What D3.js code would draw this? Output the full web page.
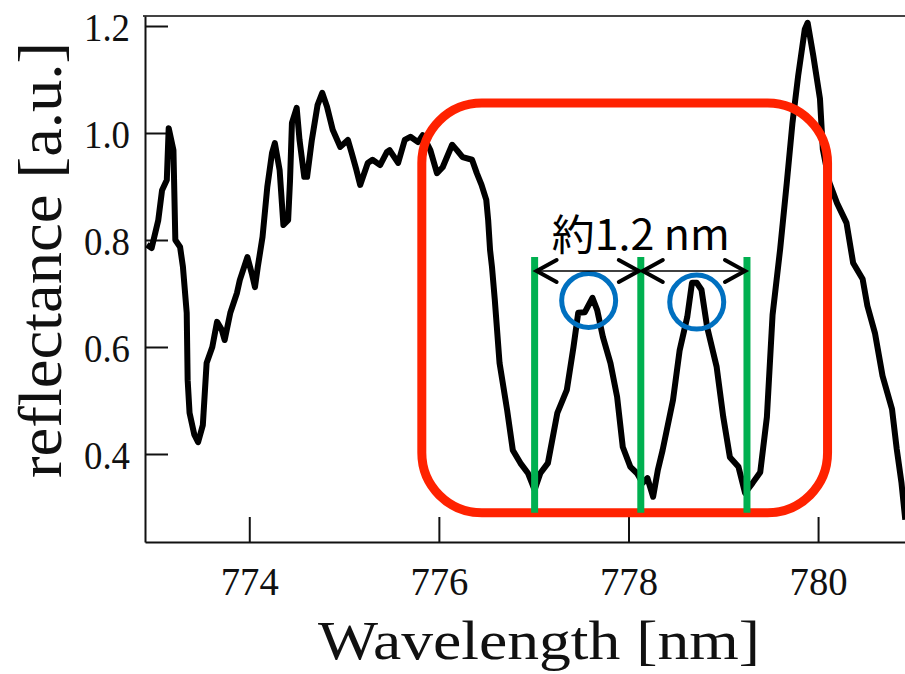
<!DOCTYPE html>
<html>
<head>
<meta charset="utf-8">
<script src="https://cdn.jsdelivr.net/npm/d3@7"></script>
<style>
  html, body { margin: 0; padding: 0; background: #fff; }
  svg { display: block; }
  .serif { font-family: "Times New Roman", "Liberation Serif", Tinos, Times, serif; }
</style>
</head>
<body>
<div id="container"></div>
<script>
// wavelength [nm] and reflectance [a.u.]
const wavelength = [
  772.92, 772.97, 773.04, 773.08, 773.13, 773.15, 773.20, 773.22, 773.27, 773.30,
  773.34, 773.35, 773.37, 773.42, 773.46, 773.51, 773.55, 773.61, 773.66, 773.71,
  773.74, 773.80, 773.87, 773.90, 773.98, 774.03, 774.06, 774.09, 774.14, 774.19,
  774.24, 774.27, 774.32, 774.36, 774.41, 774.43, 774.45, 774.50, 774.53, 774.58,
  774.61, 774.66, 774.72, 774.77, 774.82, 774.88, 774.96, 775.04, 775.08, 775.13,
  775.17, 775.25, 775.30, 775.38, 775.45, 775.48, 775.57, 775.64, 775.70, 775.78,
  775.83, 775.91, 775.98, 776.04, 776.14, 776.19, 776.25, 776.35, 776.40, 776.45,
  776.50, 776.52, 776.54, 776.56, 776.59, 776.64, 776.72, 776.78, 776.86, 776.94,
  777.01, 777.07, 777.15, 777.25, 777.35, 777.42, 777.47, 777.54, 777.62, 777.67,
  777.73, 777.81, 777.88, 777.94, 778.02, 778.09, 778.15, 778.20, 778.26, 778.31,
  778.36, 778.47, 778.54, 778.62, 778.67, 778.72, 778.77, 778.83, 778.93, 779.00,
  779.07, 779.16, 779.23, 779.31, 779.39, 779.46, 779.52, 779.60, 779.67, 779.73,
  779.79, 779.86, 779.89, 779.95, 780.02, 780.05, 780.12, 780.20, 780.30, 780.37,
  780.47, 780.52, 780.60, 780.68, 780.78, 780.83, 780.88, 780.92
];
const reflectance = [
  0.791, 0.785, 0.837, 0.893, 0.912, 1.009, 0.968, 0.800, 0.787, 0.750,
  0.664, 0.538, 0.477, 0.436, 0.422, 0.454, 0.570, 0.600, 0.647, 0.632,
  0.613, 0.664, 0.701, 0.725, 0.768, 0.735, 0.712, 0.750, 0.806, 0.899,
  0.963, 0.981, 0.931, 0.828, 0.837, 0.912, 1.019, 1.047, 0.987, 0.918,
  0.918, 0.987, 1.052, 1.075, 1.049, 1.006, 0.974, 0.987, 0.963, 0.931,
  0.903, 0.944, 0.950, 0.940, 0.964, 0.968, 0.944, 0.987, 0.993, 0.983,
  0.996, 0.968, 0.925, 0.936, 0.978, 0.968, 0.955, 0.950, 0.925, 0.903,
  0.875, 0.837, 0.781, 0.750, 0.688, 0.570, 0.482, 0.407, 0.383, 0.364,
  0.333, 0.364, 0.383, 0.477, 0.520, 0.600, 0.664, 0.665, 0.692, 0.669,
  0.619, 0.570, 0.507, 0.413, 0.376, 0.364, 0.346, 0.355, 0.320, 0.370,
  0.407, 0.501, 0.594, 0.656, 0.720, 0.720, 0.707, 0.637, 0.563, 0.469,
  0.394, 0.376, 0.327, 0.346, 0.366, 0.469, 0.660, 0.783, 0.907, 1.019,
  1.107, 1.194, 1.206, 1.144, 1.064, 0.970, 0.907, 0.869, 0.832, 0.757,
  0.727, 0.677, 0.626, 0.546, 0.484, 0.409, 0.346, 0.277
];

const xTicks = [774, 776, 778, 780];
const yTicks = [0.4, 0.6, 0.8, 1.0, 1.2];

// annotation positions in data units
const boxRange = [775.82, 780.10];      // red box, wavelength
const boxLevels = [0.290, 1.056];       // red box, reflectance
const markerLines = [777.01, 778.13, 779.25];
const markerLevels = [0.290, 0.768];
const arrowLevel = 0.742;
const peakWavelength = [777.58, 778.72];
const peakLevel = [0.687, 0.684];
const spacingLabel = "約1.2 nm";

const width = 905, height = 674;
const margin = {left: 145, right: 0, top: 16, bottom: 132};

const x = d3.scaleLinear().domain([772.9, 780.917]).range([margin.left, width - margin.right]);
const y = d3.scaleLinear().domain([0.2355, 1.2187]).range([height - margin.bottom, margin.top]);

const svg = d3.select("#container").append("svg")
  .attr("width", width)
  .attr("height", height);

// frame top
svg.append("line")
  .attr("x1", x.range()[0] - 2).attr("x2", width)
  .attr("y1", y(y.domain()[1])).attr("y2", y(y.domain()[1]))
  .attr("stroke", "#444").attr("stroke-width", 2);

const xAxis = svg.append("g")
  .attr("transform", `translate(0,${y.range()[0]})`)
  .call(d3.axisBottom(x).tickValues(xTicks).tickSizeInner(-25).tickSizeOuter(0).tickPadding(25).tickFormat(d3.format("d")));

const yAxis = svg.append("g")
  .attr("transform", `translate(${x.range()[0]},0)`)
  .call(d3.axisLeft(y).tickValues(yTicks).tickSizeInner(-23).tickSizeOuter(0).tickPadding(15).tickFormat(d3.format(".1f")));

[xAxis, yAxis].forEach(g => {
  g.attr("font-family", null).attr("font-size", null);
  g.select(".domain").attr("stroke", "#111").attr("stroke-width", 2);
  g.selectAll(".tick line").attr("stroke", "#111").attr("stroke-width", 2);
  g.selectAll(".tick text")
    .attr("class", "serif")
    .attr("fill", "#111")
    .style("font-size", "40px");
});
yAxis.selectAll(".tick text").attr("dy", "0.36em");
xAxis.selectAll(".tick text").attr("textLength", 58).attr("lengthAdjust", "spacingAndGlyphs");
yAxis.selectAll(".tick text").attr("textLength", 46).attr("lengthAdjust", "spacingAndGlyphs");

svg.append("text")
  .attr("class", "serif")
  .attr("transform", `translate(61,260) rotate(-90)`)
  .attr("text-anchor", "middle")
  .attr("textLength", 436)
  .attr("lengthAdjust", "spacingAndGlyphs")
  .style("font-size", "62px")
  .attr("fill", "#111")
  .text("reflectance [a.u.]");

svg.append("text")
  .attr("class", "serif")
  .attr("x", 539).attr("y", 659)
  .attr("text-anchor", "middle")
  .attr("textLength", 442)
  .attr("lengthAdjust", "spacingAndGlyphs")
  .style("font-size", "55px")
  .attr("fill", "#111")
  .text("Wavelength [nm]");

// spectrum
const points = wavelength.map((w, i) => [w, reflectance[i]]);
const line = d3.line().x(d => x(d[0])).y(d => y(d[1]));

svg.append("path")
  .datum(points)
  .attr("d", line)
  .attr("fill", "none")
  .attr("stroke", "#000")
  .attr("stroke-width", 6)
  .attr("stroke-linejoin", "round");

// red rounded box
svg.append("rect")
  .attr("x", x(boxRange[0]))
  .attr("y", y(boxLevels[1]))
  .attr("width", x(boxRange[1]) - x(boxRange[0]))
  .attr("height", y(boxLevels[0]) - y(boxLevels[1]))
  .attr("rx", 60).attr("ry", 60)
  .attr("fill", "none")
  .attr("stroke", "#ff2200")
  .attr("stroke-width", 9);

// green markers
svg.append("g").selectAll("line")
  .data(markerLines)
  .join("line")
  .attr("x1", d => x(d)).attr("x2", d => x(d))
  .attr("y1", y(markerLevels[1])).attr("y2", y(markerLevels[0]))
  .attr("stroke", "#00b050")
  .attr("stroke-width", 7);

// blue circles on the peaks
svg.append("g").selectAll("circle")
  .data(peakWavelength)
  .join("circle")
  .attr("cx", d => x(d))
  .attr("cy", (d, i) => y(peakLevel[i]))
  .attr("r", 27)
  .attr("fill", "none")
  .attr("stroke", "#0070c0")
  .attr("stroke-width", 5);

// double arrows between markers
const ay = y(arrowLevel);
const arrows = svg.append("g");
d3.pairs(markerLines).forEach(([a, b]) => {
  const xa = x(a) + 2, xb = x(b) - 2;
  arrows.append("line")
    .attr("x1", xa).attr("x2", xb).attr("y1", ay).attr("y2", ay)
    .attr("stroke", "#000").attr("stroke-width", 1.5);
  arrows.append("path")
    .attr("d", `M${xa + 20},${ay - 11}L${xa},${ay}L${xa + 20},${ay + 11}`)
    .attr("fill", "none").attr("stroke", "#000").attr("stroke-width", 4)
    .attr("stroke-linecap", "round").attr("stroke-linejoin", "miter");
  arrows.append("path")
    .attr("d", `M${xb - 20},${ay - 11}L${xb},${ay}L${xb - 20},${ay + 11}`)
    .attr("fill", "none").attr("stroke", "#000").attr("stroke-width", 4)
    .attr("stroke-linecap", "round").attr("stroke-linejoin", "miter");
});

svg.append("text")
  .attr("x", x(markerLines[1])).attr("y", 250)
  .attr("text-anchor", "middle")
  .attr("textLength", 178)
  .attr("lengthAdjust", "spacingAndGlyphs")
  .style("font-family", "'Noto Sans CJK JP', 'Noto Sans', sans-serif")
  .style("font-size", "42px")
  .attr("fill", "#000")
  .text(spacingLabel);
</script>
</body>
</html>
